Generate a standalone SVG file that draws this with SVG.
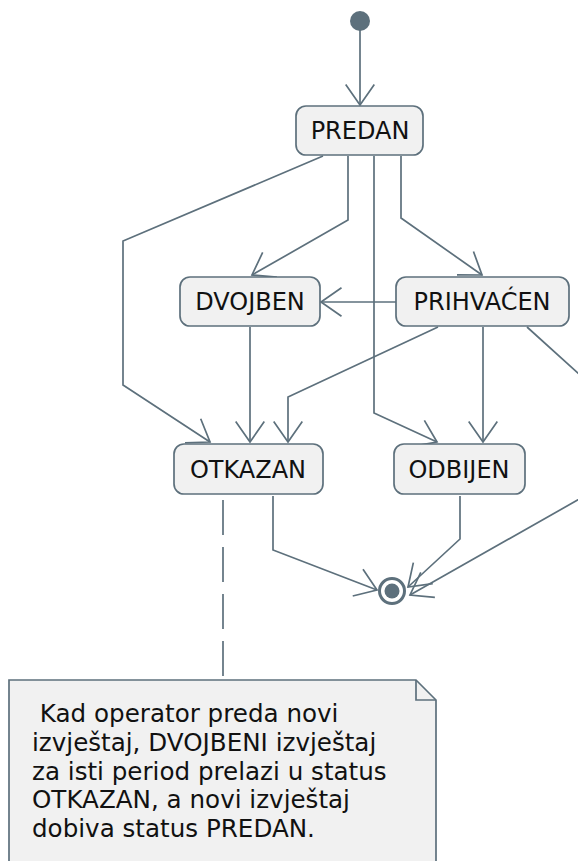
<svg xmlns="http://www.w3.org/2000/svg" width="578" height="861" viewBox="0 0 578 861">
<style>
.c{fill:none;stroke:#5d707c;stroke-width:1.7}
.n rect{fill:#f1f1f1;stroke:#5d707c;stroke-width:1.7}
.t{font-family:"DejaVu Sans",sans-serif;font-size:24px;fill:#111;text-anchor:middle}
.nt{font-family:"DejaVu Sans",sans-serif;font-size:24.6px;fill:#111}
</style>
<defs>
<marker id="ah" markerUnits="userSpaceOnUse" markerWidth="40" markerHeight="40" viewBox="-25 -20 30 40" refX="0" refY="0" orient="auto" overflow="visible">
<path d="M-20.5,-14.3 L0,0 L-20.5,14.3" fill="none" stroke="#5d707c" stroke-width="1.7"/>
</marker>
</defs>
<rect width="578" height="861" fill="#fff"/>
<g id="connectors">
<path class="c" marker-end="url(#ah)" d="M360,30 L360,105"/>
<path class="c" marker-end="url(#ah)" d="M323,156 L123,241 L123,385 L210,442"/>
<path class="c" marker-end="url(#ah)" d="M348,156 L348,220 L252,275"/>
<path class="c" marker-end="url(#ah)" d="M374,156 L374,413 L437,442"/>
<path class="c" marker-end="url(#ah)" d="M401,156 L401,218 L482,275"/>
<path class="c" marker-end="url(#ah)" d="M396,302 L321,302"/>
<path class="c" marker-end="url(#ah)" d="M250,327 L250,442"/>
<path class="c" marker-end="url(#ah)" d="M438,327 L288,397 L288,442"/>
<path class="c" marker-end="url(#ah)" d="M483,327 L483,442"/>
<path class="c" marker-end="url(#ah)" d="M527,327 L590,384 L590,493 L410,595"/>
<path class="c" marker-end="url(#ah)" d="M273,496 L273,550 L377,590"/>
<path class="c" marker-end="url(#ah)" d="M460,496 L460,539 L408,587"/>
<path class="c" stroke-dasharray="35,12" d="M223,500 L223,680"/>
</g>
<g id="start"><circle cx="360" cy="21" r="10" fill="#5d707c"/></g>
<g id="PREDAN" class="n"><rect x="296" y="106" width="127" height="49" rx="10"/><text class="t" x="360" y="139">PREDAN</text></g>
<g id="DVOJBEN" class="n"><rect x="180" y="277" width="140" height="49" rx="10"/><text class="t" x="250" y="310">DVOJBEN</text></g>
<g id="PRIHVACEN" class="n"><rect x="396" y="277" width="173" height="49" rx="10"/><text class="t" x="482" y="310">PRIHVAĆEN</text></g>
<g id="OTKAZAN" class="n"><rect x="174" y="444" width="149" height="50" rx="10"/><text class="t" x="248" y="478">OTKAZAN</text></g>
<g id="ODBIJEN" class="n"><rect x="394" y="444" width="131" height="50" rx="10"/><text class="t" x="459" y="478">ODBIJEN</text></g>
<g id="end"><circle cx="392" cy="591" r="12.5" fill="#fff" stroke="#5d707c" stroke-width="3"/><circle cx="392" cy="591" r="7.5" fill="#5d707c"/></g>
<g id="note">
<path d="M9,680 L416,680 L436,700 L436,875 L9,875 Z" fill="#f1f1f1" stroke="#5d707c" stroke-width="1.7"/>
<path d="M416,680 L416,700 L436,700" fill="none" stroke="#5d707c" stroke-width="1.7"/>
<text class="nt" x="32" y="722" xml:space="preserve"> Kad operator preda novi</text>
<text class="nt" x="32" y="751">izvještaj, DVOJBENI izvještaj</text>
<text class="nt" x="32" y="780">za isti period prelazi u status</text>
<text class="nt" x="32" y="808">OTKAZAN, a novi izvještaj</text>
<text class="nt" x="32" y="837">dobiva status PREDAN.</text>
</g>
</svg>
